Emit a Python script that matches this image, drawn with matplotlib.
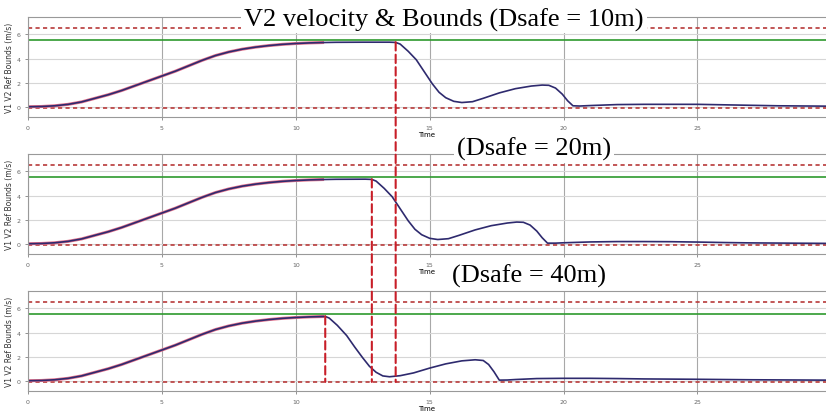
import matplotlib.pyplot as plt
from matplotlib.patches import ConnectionPatch

# common acceleration phase (s, m/s)
t_rise = [0, 0.5, 1, 1.5, 2, 2.5, 3, 3.5, 4, 4.5, 5, 5.5, 6, 6.5, 7, 7.5, 8, 8.5, 9, 9.5, 10, 10.5, 11]
v_rise = [0, 0.02, 0.08, 0.2, 0.4, 0.7, 1.0, 1.35, 1.75, 2.15, 2.55, 2.95, 3.4, 3.85, 4.25, 4.55, 4.78, 4.95, 5.08, 5.18, 5.25, 5.3, 5.33]

# after the plateau, one per Dsafe case
t_10 = [11.5, 12.5, 13.5, 13.73, 13.9, 14.2, 14.5, 14.8, 15.1, 15.35, 15.6, 15.9, 16.2, 16.6, 17.0, 17.6, 18.2, 18.8, 19.2, 19.45, 19.7, 19.95, 20.15, 20.35, 20.6, 21.0, 22.0, 23.0, 24.0, 25.0, 26.0, 27.0, 28.0, 29.8]
v_10 = [5.35, 5.36, 5.36, 5.34, 5.2, 4.6, 3.9, 2.9, 1.9, 1.2, 0.75, 0.45, 0.35, 0.42, 0.7, 1.15, 1.5, 1.72, 1.8, 1.78, 1.55, 1.05, 0.5, 0.08, 0.06, 0.1, 0.18, 0.2, 0.2, 0.2, 0.16, 0.12, 0.08, 0.05]

t_20 = [11.5, 12.6, 12.84, 13.0, 13.3, 13.6, 13.9, 14.2, 14.45, 14.7, 15.0, 15.3, 15.7, 16.1, 16.7, 17.3, 17.9, 18.25, 18.5, 18.75, 19.0, 19.2, 19.4, 19.7, 20.0, 21.0, 22.0, 23.0, 24.0, 25.0, 26.0, 27.0, 29.8]
v_20 = [5.35, 5.36, 5.34, 5.2, 4.6, 3.9, 2.9, 1.9, 1.2, 0.75, 0.45, 0.35, 0.42, 0.7, 1.15, 1.5, 1.72, 1.8, 1.78, 1.55, 1.05, 0.5, 0.05, 0.05, 0.08, 0.15, 0.18, 0.18, 0.17, 0.14, 0.1, 0.07, 0.03]

t_40 = [11.1, 11.25, 11.55, 11.9, 12.2, 12.5, 12.75, 13.0, 13.25, 13.5, 13.9, 14.4, 15.0, 15.6, 16.2, 16.7, 17.0, 17.2, 17.4, 17.6, 17.9, 18.2, 19.0, 20.0, 21.0, 22.0, 23.0, 25.0, 27.0, 29.8]
v_40 = [5.34, 5.2, 4.6, 3.75, 2.8, 1.9, 1.2, 0.7, 0.4, 0.33, 0.42, 0.65, 1.05, 1.4, 1.65, 1.74, 1.68, 1.35, 0.75, 0.05, 0.06, 0.1, 0.18, 0.2, 0.2, 0.18, 0.15, 0.12, 0.08, 0.05]

cases = [(t_10, v_10), (t_20, v_20), (t_40, v_40)]
cut_times = [13.73, 12.84, 11.1]
titles = ['V2 velocity & Bounds (Dsafe = 10m)', '(Dsafe = 20m)', '(Dsafe = 40m)']
xticks = [0, 5, 10, 15, 20, 25]

v_max = 5.5
bound_hi = 6.5
bound_lo = -0.1

fig = plt.figure(figsize=(8.26, 4.14), dpi=100)
tops = [0.9565, 0.6256, 0.2947]
h = 0.2415
axes = []
for i, (tt, vv) in enumerate(cases):
    ax = fig.add_axes([0.0339, tops[i] - h, 0.9661, h])
    ax.set_xlim(0, 29.8)
    ax.set_ylim(-0.85, 7.45)
    ax.set_xticks(xticks)
    labels = [str(x) for x in xticks]
    if i == 1:
        labels[4] = ''  # hidden under the next caption
    ax.set_xticklabels(labels)
    ax.set_yticks([0, 2, 4, 6])
    ax.tick_params(labelsize=4.5, colors='#666666', length=2, width=0.5)
    ax.grid(axis='x', color='#a8a8a8', lw=0.8)
    ax.grid(axis='y', color='#d6d6d6', lw=0.8)
    for s in ax.spines.values():
        s.set_color('#999999')
        s.set_linewidth(0.8)
    ax.spines['right'].set_visible(False)
    ax.set_xlabel('Time', fontsize=5, labelpad=1)
    ax.set_ylabel('V1 V2 Ref Bounds (m/s)', fontsize=5.5, labelpad=2, color='#333333')
    ax.axhline(v_max, color='#2e9a2e', lw=1.2)
    ax.axhline(bound_hi, color='#b83a3a', lw=1.2, ls=(0, (2.5, 2)))
    ax.axhline(bound_lo, color='#b83a3a', lw=1.2, ls=(0, (2.5, 2)))
    ax.plot(t_rise, v_rise, color='#e2708a', lw=2.2)
    ax.plot(t_rise + tt, v_rise + vv, color='#2e2a6e', lw=1.2)
    axes.append(ax)

# vertical cut-off lines from each case down to the last panel
for i, tc in enumerate(cut_times):
    con = ConnectionPatch(xyA=(tc, 5.36), coordsA=axes[i].transData,
                          xyB=(tc, bound_lo), coordsB=axes[2].transData,
                          color='#c81e28', lw=1.5, ls=(0, (4, 2)))
    con.set_zorder(5)
    fig.add_artist(con)

title_pos = [(0.5375, 0.952), (0.646, 0.64), (0.641, 0.333)]
for (x, y), s in zip(title_pos, titles):
    fig.text(x, y, s, ha='center', va='center', fontsize=19, family='Liberation Serif',
             bbox=dict(facecolor='white', edgecolor='none', pad=2), zorder=10)

fig.savefig('out.png', dpi=100)
